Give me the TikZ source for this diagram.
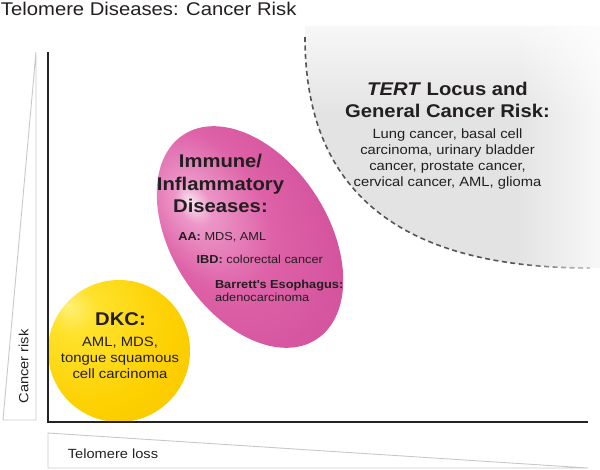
\documentclass[tikz,border=0pt]{standalone}
\usepackage{fontspec}
\setmainfont{Liberation Sans}[FakeStretch=1.1]
\usetikzlibrary{fadings}
\definecolor{ink}{RGB}{35,31,32}
\definecolor{axisink}{RGB}{35,35,35}
\definecolor{wedgegray}{RGB}{200,200,200}
\definecolor{regiongray}{RGB}{227,227,227}
\definecolor{dashgray}{RGB}{85,85,85}
\definecolor{yA}{RGB}{255,240,120}
\definecolor{yB}{RGB}{255,226,45}
\definecolor{yC}{RGB}{253,208,0}
\definecolor{yD}{RGB}{232,172,0}
\definecolor{pA}{RGB}{250,228,240}
\definecolor{pB}{RGB}{236,150,200}
\definecolor{pC}{RGB}{222,98,168}
\definecolor{pD}{RGB}{206,76,151}
\definecolor{pE}{RGB}{176,48,124}
\pgfdeclareradialshading{yellowball}{\pgfpoint{-18bp}{16bp}}{color(0bp)=(yA); color(8bp)=(yB); color(30bp)=(yC); color(55bp)=(yC!60!yD); color(75bp)=(yD)}
\pgfdeclareradialshading{pinkball}{\pgfpoint{-13bp}{-10bp}}{color(0bp)=(pA); color(5bp)=(pB); color(18bp)=(pC); color(42bp)=(pD); color(70bp)=(pE)}
\begin{document}
\begin{tikzpicture}[x=1pt,y=-1pt,
  txt/.style={inner sep=0pt, outer sep=0pt, text=ink},
  titletext/.style={txt, font=\fontsize{18.4}{22}\selectfont, anchor=base west},
  headline/.style={txt, font=\fontsize{18.4}{22}\selectfont\bfseries, anchor=base},
  tertbody/.style={txt, font=\fontsize{13.4}{16}\selectfont, anchor=base},
  dkcbody/.style={txt, font=\fontsize{13.5}{16}\selectfont, anchor=base},
  ibody/.style={txt, font=\fontsize{11.6}{14}\selectfont, anchor=base west},
  axislabel/.style={txt, font=\fontsize{13.3}{16}\selectfont, anchor=base},
  axisline/.style={draw=axisink, line width=2.2pt},
  wedge/.style={draw=wedgegray, line width=0.9pt, line join=miter},
  riskline/.style={draw=dashgray, line width=1.6pt, dash pattern=on 5pt off 3.5pt}
]
\useasboundingbox (0,0) rectangle (600,469);

% general cancer risk region
\fill[regiongray] (305,37) .. controls (305,200) and (410,268) .. (590,268) -- (600,268) -- (600,26) -- (305,26) -- cycle;
\fill[white, path fading=south] (300,-4) rectangle (600,116);
\draw[riskline] (305,37) .. controls (305,200) and (410,268) .. (590,268);
\fill[white, path fading=west] (515,20) rectangle (627,280);

% immune / inflammatory ellipse
\shade[shading=pinkball, transform canvas={shift={(250,237)}, rotate=-57}] (0,0) ellipse [x radius=122, y radius=78];

% DKC ball
\shade[shading=yellowball] (119,351) circle [radius=71];

% axes and wedges
\draw[wedge] (36,52) -- (36,420) -- (3,420) -- cycle;
\draw[wedge] (48,433) -- (588,468) -- (48,468) -- cycle;
\draw[axisline] (48,52) -- (48,422) -- (588,422);

% texts
\node[titletext] (title) at (1,15) {Telomere Diseases: Cancer Risk};

\node[headline] (tertA) at (447.5,95) {\textit{TERT} Locus and};
\node[headline] (tertB) at (447.5,117) {General Cancer Risk:};
\node[tertbody] (tert1) at (447.5,138.5) {Lung cancer, basal cell};
\node[tertbody] (tert2) at (447.5,154.5) {carcinoma, urinary bladder};
\node[tertbody] (tert3) at (447.5,170.5) {cancer, prostate cancer,};
\node[tertbody] (tert4) at (447.5,186.5) {cervical cancer, AML, glioma};

\node[headline] (imm1) at (220.5,167.7) {Immune/};
\node[headline] (imm2) at (220.5,190) {Inflammatory};
\node[headline] (imm3) at (220.5,212.3) {Diseases:};
\node[ibody] (aa) at (178.3,240) {\textbf{AA:} MDS, AML};
\node[ibody] (ibd) at (196.7,263.3) {\textbf{IBD:} colorectal cancer};
\node[ibody] (bar1) at (215,288.3) {\textbf{Barrett\textquotesingle s Esophagus:}};
\node[ibody] (bar2) at (215,301.7) {adenocarcinoma};

\node[headline] (dkc) at (120.5,325) {DKC:};
\node[dkcbody] (dkc1) at (120,346.5) {AML, MDS,};
\node[dkcbody] (dkc2) at (120,362.5) {tongue squamous};
\node[dkcbody] (dkc3) at (120,378.5) {cell carcinoma};

\node[axislabel, rotate=90] (ylabel) at (28.3,366.5) {Cancer risk};
\node[axislabel] (xlabel) at (113,458.3) {Telomere loss};
\end{tikzpicture}
\end{document}
